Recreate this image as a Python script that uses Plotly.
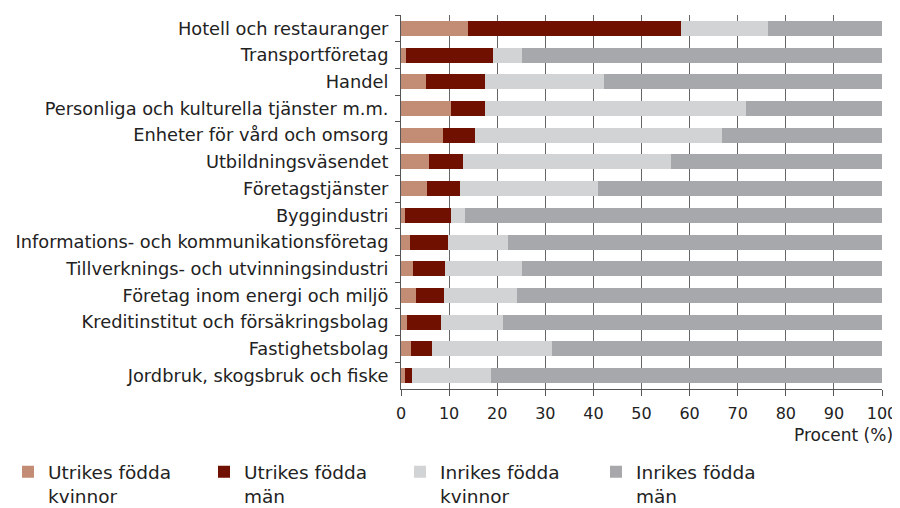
import plotly.graph_objects as go

# Näringsgren, uppifrån och ned
branscher = [
    "Hotell och restauranger",
    "Transportföretag",
    "Handel",
    "Personliga och kulturella tjänster m.m.",
    "Enheter för vård och omsorg",
    "Utbildningsväsendet",
    "Företagstjänster",
    "Byggindustri",
    "Informations- och kommunikationsföretag",
    "Tillverknings- och utvinningsindustri",
    "Företag inom energi och miljö",
    "Kreditinstitut och försäkringsbolag",
    "Fastighetsbolag",
    "Jordbruk, skogsbruk och fiske",
]

# andel i procent per grupp
utrikes_kvinnor = [13.9, 1.0, 5.2, 10.3, 8.7, 5.9, 5.4, 0.8, 1.9, 2.4, 3.1, 1.3, 2.1, 0.8]
utrikes_man = [44.4, 18.2, 12.2, 7.1, 6.6, 6.9, 6.9, 9.5, 7.8, 6.8, 5.8, 7.1, 4.3, 1.5]
inrikes_kvinnor = [18.1, 6.0, 24.7, 54.3, 51.5, 43.3, 28.7, 3.1, 12.6, 16.0, 15.2, 12.9, 24.9, 16.5]
inrikes_man = [23.6, 74.8, 57.9, 28.3, 33.2, 43.9, 59.0, 86.6, 77.7, 74.8, 75.9, 78.7, 68.7, 81.2]

serier = [
    ("Utrikes födda<br>kvinnor", utrikes_kvinnor, "#C28C75"),
    ("Utrikes födda<br>män", utrikes_man, "#701000"),
    ("Inrikes födda<br>kvinnor", inrikes_kvinnor, "#D2D3D5"),
    ("Inrikes födda<br>män", inrikes_man, "#A7A8AB"),
]

fig = go.Figure()
for namn, varden, farg in serier:
    fig.add_bar(y=branscher, x=varden, name=namn, orientation="h",
                marker=dict(color=farg, line=dict(width=0)))

# sidans body har 8 px marginal, så figuren görs 8 px mindre
fig.update_layout(
    barmode="stack",
    bargap=0.44,
    width=892, height=500,
    margin=dict(l=393, r=18, t=7, b=119, autoexpand=False),
    plot_bgcolor="white", paper_bgcolor="white",
    font=dict(family="DejaVu Sans", size=17.8, color="#222"),
    showlegend=True,
    legend=dict(orientation="h", x=-393 / 481, xanchor="left",
                y=-0.172, yanchor="top", valign="top",
                traceorder="normal", entrywidth=151, entrywidthmode="pixels",
                font=dict(size=18.5), tracegroupgap=0),
)

fig.update_xaxes(range=[0, 100], dtick=10, showgrid=True, gridcolor="#666",
                 gridwidth=1, showline=True, linecolor="#555", linewidth=1,
                 ticks="outside", ticklen=6, tickcolor="#555", zeroline=False,
                 tickfont=dict(size=16), ticklabelstandoff=4)
fig.update_yaxes(autorange="reversed", showline=True, linecolor="#555",
                 linewidth=1, ticks="outside", ticklen=5, tickcolor="#555",
                 tickson="boundaries", showgrid=False, ticklabelstandoff=8)

fig.add_annotation(text="Procent (%)", xref="paper", yref="paper",
                   x=1.027, y=-0.123, xanchor="right", yanchor="middle",
                   showarrow=False, font=dict(size=17))

fig.write_html("out.html")
